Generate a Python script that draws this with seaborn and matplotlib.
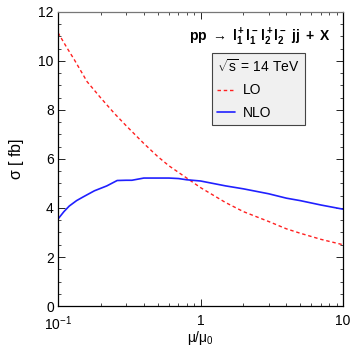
import pandas as pd
import seaborn as sns
import matplotlib.pyplot as plt
from matplotlib.ticker import MultipleLocator, LogLocator, NullFormatter

# LO curve
lo_mu = [0.1, 0.115, 0.13, 0.16, 0.2, 0.25, 0.3, 0.4, 0.5, 0.6, 0.8, 1.0, 1.5, 2.0, 3.0, 4.0, 5.0, 7.0, 10.0]
lo_sigma = [11.15, 10.55, 10.05, 9.15, 8.48, 7.84, 7.36, 6.63, 6.1, 5.72, 5.22, 4.83, 4.22, 3.85, 3.45, 3.15, 2.97, 2.72, 2.5]

# NLO curve
nlo_mu = [0.1, 0.11, 0.12, 0.135, 0.15, 0.18, 0.22, 0.26, 0.3, 0.33, 0.4, 0.5, 0.6, 0.7, 0.8, 1.0, 1.5, 2.0, 3.0, 4.0, 5.0, 7.0, 10.0]
nlo_sigma = [3.55, 3.85, 4.08, 4.3, 4.45, 4.7, 4.9, 5.12, 5.13, 5.13, 5.22, 5.22, 5.22, 5.2, 5.15, 5.1, 4.9, 4.78, 4.58, 4.4, 4.3, 4.12, 3.95]

lo = pd.DataFrame({'mu': lo_mu, 'sigma': lo_sigma})
nlo = pd.DataFrame({'mu': nlo_mu, 'sigma': nlo_sigma})

sns.set_style('ticks')
plt.rcParams['font.family'] = ['Liberation Sans', 'DejaVu Sans']
plt.rcParams['mathtext.fontset'] = 'custom'
plt.rcParams['mathtext.rm'] = 'Liberation Sans'
plt.rcParams['mathtext.it'] = 'Liberation Sans'
plt.rcParams['mathtext.bf'] = 'Liberation Sans:bold'
plt.rcParams['text.color'] = 'black'
plt.rcParams['axes.labelcolor'] = 'black'
plt.rcParams['xtick.color'] = 'black'
plt.rcParams['ytick.color'] = 'black'

fig = plt.figure(figsize=(3.57, 3.47), dpi=100)
ax = fig.add_axes([0.1625, 0.118, 0.7985, 0.848])

sns.lineplot(x='mu', y='sigma', data=lo, ax=ax, color='#ff2020', lw=1.0,
             linestyle=(0, (2.5, 2)), label='LO')
sns.lineplot(x='mu', y='sigma', data=nlo, ax=ax, color='#2020ff', lw=1.2,
             label='NLO')

ax.set_xscale('log')
ax.set_xlim(0.1, 10)
ax.set_ylim(0, 12)
ax.set_xticks([0.1, 1, 10])
ax.set_xticklabels([r'$10^{-1}$', '1', '10'])
ax.xaxis.set_minor_locator(LogLocator(base=10, subs=range(2, 10)))
ax.xaxis.set_minor_formatter(NullFormatter())
ax.yaxis.set_major_locator(MultipleLocator(2))
ax.yaxis.set_minor_locator(MultipleLocator(0.5))
ax.tick_params(which='both', direction='in', top=True, right=True, labelsize=10)
ax.tick_params(axis='x', which='major', pad=6)
ax.tick_params(axis='y', which='major', pad=3)
ax.tick_params(which='major', length=5, width=0.6)
ax.tick_params(which='minor', length=2.5, width=0.5)
for s in ax.spines.values():
    s.set_linewidth(0.9)
    s.set_color('black')
ax.spines['top'].set_color('#777777')

ax.set_xlabel(r'$\mu/\mu_0$', fontsize=10, labelpad=-3)
ax.set_ylabel(r'$\sigma$ [ fb]', fontsize=11.5, labelpad=9)

ax.text(0.957, 0.912, r'$\mathbf{pp}\ \rightarrow\ \mathbf{l_1^+l_1^-\,l_2^+l_2^-\ jj\ +\ X}$',
        transform=ax.transAxes, ha='right', va='center', fontsize=10)

leg = ax.legend(title=r'$\sqrt{s}$ = 14 TeV', loc='upper right', bbox_to_anchor=(0.867, 0.861),
                fontsize=10, title_fontsize=10, alignment='left', frameon=True,
                fancybox=False, handlelength=1.25, handletextpad=0.6, borderpad=0.4,
                labelspacing=0.6, borderaxespad=0)
leg.get_frame().set_facecolor('#f0f0f0')
leg.get_frame().set_edgecolor('#444444')
leg.get_frame().set_linewidth(0.8)
leg.get_frame().set_alpha(1)

plt.savefig('out.png', dpi=100)
plt.close()
